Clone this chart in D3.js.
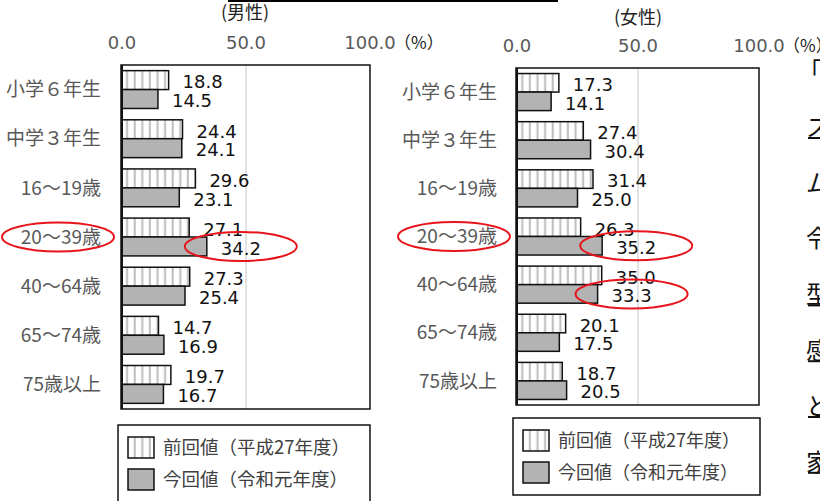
<!DOCTYPE html>
<html>
<head>
<meta charset="utf-8">
<script src="https://cdn.jsdelivr.net/npm/d3@7"></script>
<style>
  body { margin: 0; background: #fff; }
  svg { display: block; }
</style>
</head>
<body>
<svg id="chart"></svg>
<script>
(function() {

const categories = ["小学６年生", "中学３年生", "16～19歳", "20～39歳", "40～64歳", "65～74歳", "75歳以上"];
const malePrev = [18.8, 24.4, 29.6, 27.1, 27.3, 14.7, 19.7];
const maleCur = [14.5, 24.1, 23.1, 34.2, 25.4, 16.9, 16.7];
const femalePrev = [17.3, 27.4, 31.4, 26.3, 35.0, 20.1, 18.7];
const femaleCur = [14.1, 30.4, 25.0, 35.2, 33.3, 17.5, 20.5];
const tickValues = [0, 50, 100];
const legendLabels = ["前回値（平成27年度）", "今回値（令和元年度）"];
const panelTitles = ["(男性)", "(女性)"];
// circled items: [panel index, category, series index]
const circled = [[0, "20～39歳", 1], [1, "20～39歳", 1], [1, "40～64歳", 1]];
// cut-off text of the neighbouring page
const edgeChars = ["「", "ス", "ム", "令", "型", "感", "と", "家"];

const W = 820, H = 501;
const numFont = "'DejaVu Sans', Verdana, sans-serif";
const jpFont = "'Noto Sans CJK JP', sans-serif";
const curColor = "#b3b3b3";

const svg = d3.select("#chart").attr("width", W).attr("height", H);

// vertical stripes for the previous survey
const defs = svg.append("defs");
const pat = defs.append("pattern")
    .attr("id", "stripes")
    .attr("patternUnits", "userSpaceOnUse")
    .attr("width", 7.6).attr("height", 10);
pat.append("rect").attr("width", 7.6).attr("height", 10).attr("fill", "#fff");
pat.append("rect").attr("x", 4.5).attr("width", 2).attr("height", 10).attr("fill", "#bdbdbd");

// line at the very top
svg.append("line")
    .attr("x1", 228).attr("x2", 558).attr("y1", 1).attr("y2", 1)
    .attr("stroke", "#000").attr("stroke-width", 2);

const panels = [
    { prev: malePrev, cur: maleCur, left: 122, right: 370, top: 65, bottom: 409, labelX: 101,
      titleX: 245, titleY: 19, tickY: 49, legend: { x: 118, y: 425, w: 252, h: 90 }, legendFont: 18.5 },
    { prev: femalePrev, cur: femaleCur, left: 517, right: 759, top: 68, bottom: 405, labelX: 497,
      titleX: 638, titleY: 24, tickY: 52, legend: { x: 513, y: 418, w: 247, h: 77 }, legendFont: 18 }
];

panels.forEach((p, pi) => {
    const g = svg.append("g");

    const x = d3.scaleLinear().domain([0, 100]).range([p.left, p.right]);
    const y = d3.scaleBand().domain(categories).range([p.top, p.bottom])
        .paddingInner(0.23).paddingOuter(0.115);
    const ySub = d3.scaleBand().domain([0, 1]).range([0, y.bandwidth()]);

    // title
    g.append("text")
        .attr("x", p.titleX).attr("y", p.titleY)
        .attr("text-anchor", "middle")
        .attr("font-family", jpFont).attr("font-size", 18)
        .attr("fill", "#222")
        .text(panelTitles[pi]);

    // gridline at 50
    g.append("line")
        .attr("x1", x(50)).attr("x2", x(50))
        .attr("y1", p.top).attr("y2", p.bottom)
        .attr("stroke", "#d9d9d9").attr("stroke-width", 1.5);

    // tick labels on top
    const ticks = g.append("g")
        .attr("font-family", numFont).attr("font-size", 18).attr("fill", "#595959");
    ticks.selectAll("text").data(tickValues).join("text")
        .attr("x", d => x(d)).attr("y", p.tickY)
        .attr("text-anchor", "middle")
        .text(d => d.toFixed(1));
    ticks.append("text")
        .attr("x", x(100) + 24).attr("y", p.tickY)
        .attr("font-family", jpFont).attr("font-size", 17).attr("fill", "#222")
        .text("（%）");

    // category labels
    g.append("g").selectAll("text").data(categories).join("text")
        .attr("x", p.labelX)
        .attr("y", d => y(d) + y.bandwidth() / 2)
        .attr("dy", "0.35em")
        .attr("text-anchor", "end")
        .attr("font-family", jpFont).attr("font-size", 19).attr("fill", "#595959")
        .text(d => d);

    const rows = categories.map((c, i) => ({ c, vals: [p.prev[i], p.cur[i]] }));
    const series = rows.flatMap(r => r.vals.map((v, s) => ({ c: r.c, v, s })));

    // bars
    g.append("g").selectAll("rect").data(series).join("rect")
        .attr("x", x(0))
        .attr("y", d => y(d.c) + ySub(d.s))
        .attr("width", d => x(d.v) - x(0))
        .attr("height", ySub.bandwidth())
        .attr("fill", d => d.s === 0 ? "url(#stripes)" : curColor)
        .attr("stroke", "#111").attr("stroke-width", 1.5);

    // value labels
    g.append("g").selectAll("text").data(series).join("text")
        .attr("x", d => x(d.v) + 14)
        .attr("y", d => y(d.c) + ySub(d.s) + ySub.bandwidth() / 2 + 2)
        .attr("dy", "0.35em")
        .attr("font-family", numFont).attr("font-size", 18).attr("fill", "#111")
        .text(d => d.v.toFixed(1));

    // plot box
    g.append("rect")
        .attr("x", x(0) - 1).attr("y", p.top)
        .attr("width", x(100) - x(0) + 1).attr("height", p.bottom - p.top)
        .attr("fill", "none").attr("stroke", "#111").attr("stroke-width", 1.5);
    g.append("line")
        .attr("x1", x(0)).attr("x2", x(0)).attr("y1", p.top).attr("y2", p.bottom)
        .attr("stroke", "#111").attr("stroke-width", 2);

    // legend
    const L = p.legend;
    const lg = g.append("g");
    lg.append("rect")
        .attr("x", L.x).attr("y", L.y).attr("width", L.w).attr("height", L.h)
        .attr("fill", "#fff").attr("stroke", "#111").attr("stroke-width", 1.5);
    legendLabels.forEach((lab, i) => {
        const yy = L.y + 12 + i * 32;
        lg.append("rect")
            .attr("x", L.x + 10).attr("y", yy)
            .attr("width", 26).attr("height", 21)
            .attr("fill", i === 0 ? "url(#stripes)" : curColor)
            .attr("stroke", "#111").attr("stroke-width", 1.5);
        lg.append("text")
            .attr("x", L.x + 45).attr("y", yy + 10.5)
            .attr("dy", "0.35em")
            .attr("font-family", jpFont).attr("font-size", p.legendFont).attr("fill", "#404040")
            .text(lab);
    });

    // red circles
    circled.filter(d => d[0] === pi).forEach(([, cat, s]) => {
        const i = categories.indexOf(cat);
        const v = s === 0 ? p.prev[i] : p.cur[i];
        const cy = y(cat) + y.bandwidth() / 2;
        if (s === 1 && cat === "20～39歳") {
            svg.append("ellipse")
                .attr("cx", p.labelX - 43).attr("cy", cy)
                .attr("rx", 56).attr("ry", 14.5)
                .attr("fill", "none").attr("stroke", "#e8141b").attr("stroke-width", 2);
        }
        svg.append("ellipse")
            .attr("cx", x(v) + 34)
            .attr("cy", y(cat) + ySub(s) + ySub.bandwidth() / 2)
            .attr("rx", 56).attr("ry", 14.5)
            .attr("fill", "none").attr("stroke", "#e8141b").attr("stroke-width", 2);
    });
});

// cut-off characters at the right edge
const edge = svg.append("g")
    .attr("font-family", jpFont).attr("font-size", 24).attr("fill", "#111");
edge.selectAll("text").data(edgeChars).join("text")
    .attr("x", d => d === "「" ? 798 : 806)
    .attr("y", (d, i) => 80 + i * 55.8)
    .text(d => d);
edge.selectAll("line").data(edgeChars.slice(1)).join("line")
    .attr("x1", 808).attr("x2", 820)
    .attr("y1", (d, i) => 138 + i * 55.8)
    .attr("y2", (d, i) => 138 + i * 55.8)
    .attr("stroke", d => (d === "ム" || d === "令") ? "none" : "#111")
    .attr("stroke-width", 2);

})();
</script>
</body>
</html>
